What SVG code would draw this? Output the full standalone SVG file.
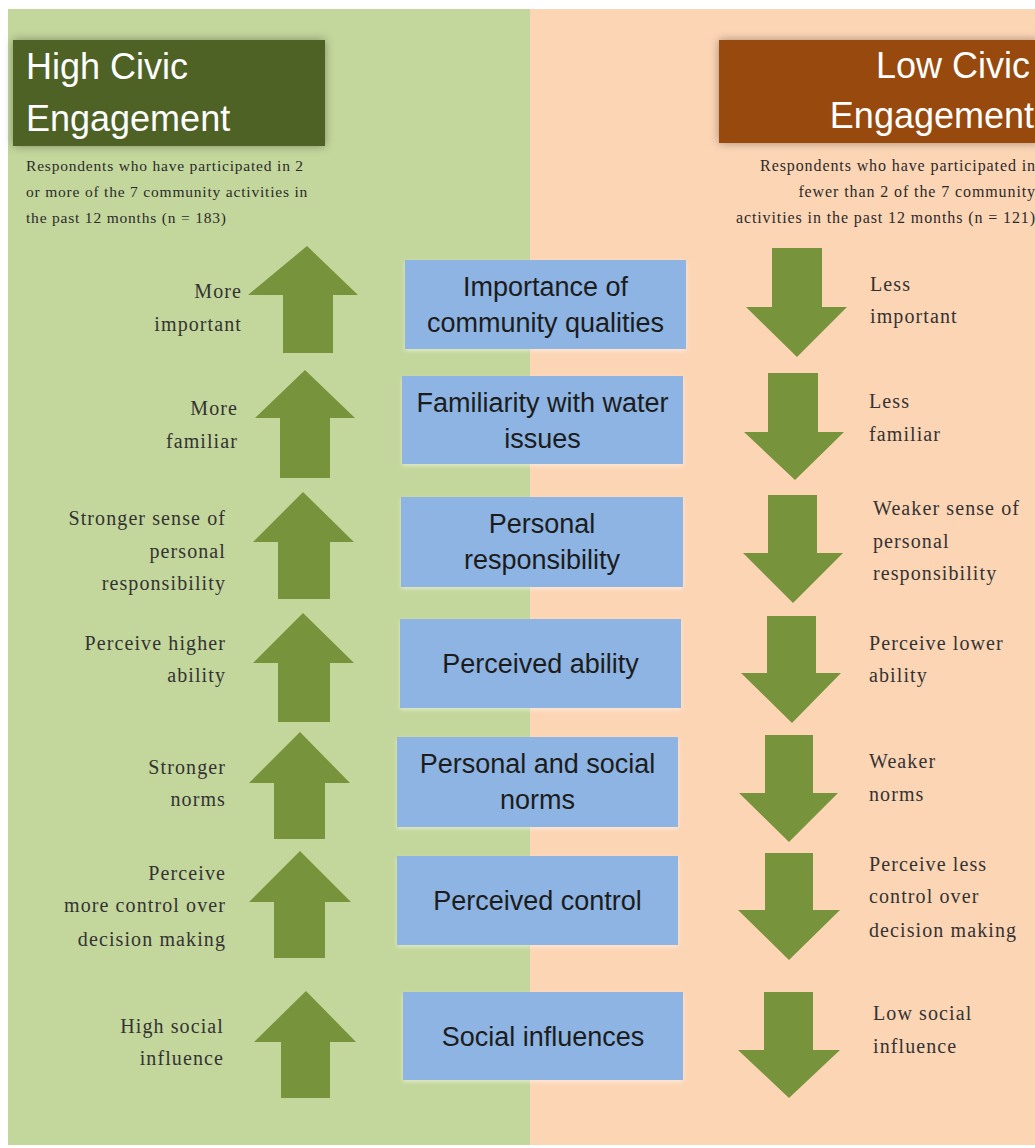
<svg xmlns="http://www.w3.org/2000/svg" width="1035" height="1148" viewBox="0 0 1035 1148">
<defs>
<filter id="shadow" x="-10%" y="-20%" width="120%" height="140%">
<feDropShadow dx="0" dy="0" stdDeviation="5" flood-color="#000" flood-opacity="0.35"/>
</filter>
<filter id="bshadow" x="-5%" y="-10%" width="110%" height="125%">
<feDropShadow dx="0" dy="2" stdDeviation="2" flood-color="#fff" flood-opacity="0.45"/>
</filter>
</defs>
<style>
.head{font-family:"Liberation Sans",Arial,sans-serif;font-size:36px;fill:#fff;}
.sub{font-family:"Liberation Serif","Times New Roman",serif;font-size:15.5px;letter-spacing:0.8px;fill:#2b2b2b;}
.subr{font-family:"Liberation Serif","Times New Roman",serif;font-size:16px;letter-spacing:0.9px;fill:#2b2b2b;text-anchor:end;}
.lbl{font-family:"Liberation Serif","Times New Roman",serif;font-size:20px;letter-spacing:1.1px;fill:#333;}
.lft{text-anchor:end;}
.box{fill:#8db4e2;}
.btxt{font-family:"Liberation Sans",Arial,sans-serif;font-size:27px;fill:#1c1c1c;text-anchor:middle;}
.arrow{fill:#77933c;}
</style>
<rect x="0" y="0" width="1035" height="1148" fill="#ffffff"/>
<rect id="panel-high" x="8" y="9" width="523" height="1136" fill="#c3d69b"/>
<rect id="panel-low" x="530" y="9" width="505" height="1136" fill="#fcd5b5"/>

<g id="heading-high">
<rect x="13" y="40" width="312" height="106" fill="#4f6228" filter="url(#shadow)"/>
<text class="head" x="26" y="79">High Civic</text>
<text class="head" x="26" y="131">Engagement</text>
<text class="sub" x="26" y="171">Respondents who have participated in 2</text>
<text class="sub" x="26" y="197">or more of the 7 community activities in</text>
<text class="sub" x="26" y="223">the past 12 months (n = 183)</text>
</g>

<g id="heading-low">
<rect x="719" y="40" width="320" height="103" fill="#984807" filter="url(#shadow)"/>
<text class="head" x="1030" y="78" text-anchor="end">Low Civic</text>
<text class="head" x="1034" y="128" text-anchor="end">Engagement</text>
<text class="subr" x="1036" y="171">Respondents who have participated in</text>
<text class="subr" x="1036" y="197">fewer than 2 of the 7 community</text>
<text class="subr" x="1036" y="223">activities in the past 12 months (n = 121)</text>
</g>

<g id="indicators">
<g id="up-arrows">
<polygon class="arrow" points="307,246 358,295 333,295 333,353 283,353 283,295 248,295"/>
<polygon class="arrow" points="305,370 355,418 330,418 330,478 280,478 280,418 255,418"/>
<polygon class="arrow" points="303,492 354,542 330,542 330,599 278,599 278,542 253,542"/>
<polygon class="arrow" points="303,613 354,663 330,663 330,722 278,722 278,663 253,663"/>
<polygon class="arrow" points="300,732 350,783 325,783 325,839 274,839 274,783 249,783"/>
<polygon class="arrow" points="300,851 351,902 325,902 325,958 274,958 274,902 249,902"/>
<polygon class="arrow" points="306,991 356,1042 330,1042 330,1098 281,1098 281,1042 254,1042"/>
</g>
<g id="down-arrows">
<polygon class="arrow" points="772,248 822,248 822,307 847,307 797,357 746,307 772,307"/>
<polygon class="arrow" points="768,373 818,373 818,432 844,432 795,480 744,432 768,432"/>
<polygon class="arrow" points="768,495 817,495 817,553 843,553 793,603 743,553 768,553"/>
<polygon class="arrow" points="767,616 816,616 816,673 841,673 792,723 741,673 767,673"/>
<polygon class="arrow" points="765,735 813,735 813,793 838,793 789,842 739,793 765,793"/>
<polygon class="arrow" points="765,853 813,853 813,910 840,910 789,960 738,910 765,910"/>
<polygon class="arrow" points="764,992 813,992 813,1050 840,1050 789,1098 738,1050 764,1050"/>
</g>
</g>

<g id="node-importance">
<rect class="box" x="405" y="260" width="281" height="89" filter="url(#bshadow)"/>
<text class="btxt" x="545.5" y="296">Importance of</text>
<text class="btxt" x="545.5" y="332">community qualities</text>
<text class="lbl lft" x="242" y="298">More</text>
<text class="lbl lft" x="242" y="331">important</text>
<text class="lbl" x="870" y="291">Less</text>
<text class="lbl" x="870" y="323">important</text>
</g>

<g id="node-familiarity">
<rect class="box" x="402" y="376" width="281" height="88" filter="url(#bshadow)"/>
<text class="btxt" x="542.5" y="412">Familiarity with water</text>
<text class="btxt" x="542.5" y="448">issues</text>
<text class="lbl lft" x="238" y="415">More</text>
<text class="lbl lft" x="238" y="448">familiar</text>
<text class="lbl" x="869" y="408">Less</text>
<text class="lbl" x="869" y="441">familiar</text>
</g>

<g id="node-responsibility">
<rect class="box" x="401" y="497" width="282" height="90" filter="url(#bshadow)"/>
<text class="btxt" x="542" y="533">Personal</text>
<text class="btxt" x="542" y="569">responsibility</text>
<text class="lbl lft" x="226" y="525">Stronger sense of</text>
<text class="lbl lft" x="226" y="558">personal</text>
<text class="lbl lft" x="226" y="590">responsibility</text>
<text class="lbl" x="873" y="515">Weaker sense of</text>
<text class="lbl" x="873" y="548">personal</text>
<text class="lbl" x="873" y="580">responsibility</text>
</g>

<g id="node-ability">
<rect class="box" x="400" y="619" width="281" height="89" filter="url(#bshadow)"/>
<text class="btxt" x="540.5" y="673">Perceived ability</text>
<text class="lbl lft" x="226" y="650">Perceive higher</text>
<text class="lbl lft" x="226" y="682">ability</text>
<text class="lbl" x="869" y="650">Perceive lower</text>
<text class="lbl" x="869" y="682">ability</text>
</g>

<g id="node-norms">
<rect class="box" x="397" y="737" width="281" height="90" filter="url(#bshadow)"/>
<text class="btxt" x="537.5" y="773">Personal and social</text>
<text class="btxt" x="537.5" y="809">norms</text>
<text class="lbl lft" x="226" y="774">Stronger</text>
<text class="lbl lft" x="226" y="806">norms</text>
<text class="lbl" x="869" y="768">Weaker</text>
<text class="lbl" x="869" y="801">norms</text>
</g>

<g id="node-control">
<rect class="box" x="397" y="856" width="281" height="89" filter="url(#bshadow)"/>
<text class="btxt" x="537.5" y="910">Perceived control</text>
<text class="lbl lft" x="226" y="880">Perceive</text>
<text class="lbl lft" x="226" y="912">more control over</text>
<text class="lbl lft" x="226" y="946">decision making</text>
<text class="lbl" x="869" y="871">Perceive less</text>
<text class="lbl" x="869" y="903">control over</text>
<text class="lbl" x="869" y="937">decision making</text>
</g>

<g id="node-social">
<rect class="box" x="403" y="992" width="280" height="88" filter="url(#bshadow)"/>
<text class="btxt" x="543" y="1046">Social influences</text>
<text class="lbl lft" x="224" y="1033">High social</text>
<text class="lbl lft" x="224" y="1065">influence</text>
<text class="lbl" x="873" y="1020">Low social</text>
<text class="lbl" x="873" y="1053">influence</text>
</g>
</svg>
